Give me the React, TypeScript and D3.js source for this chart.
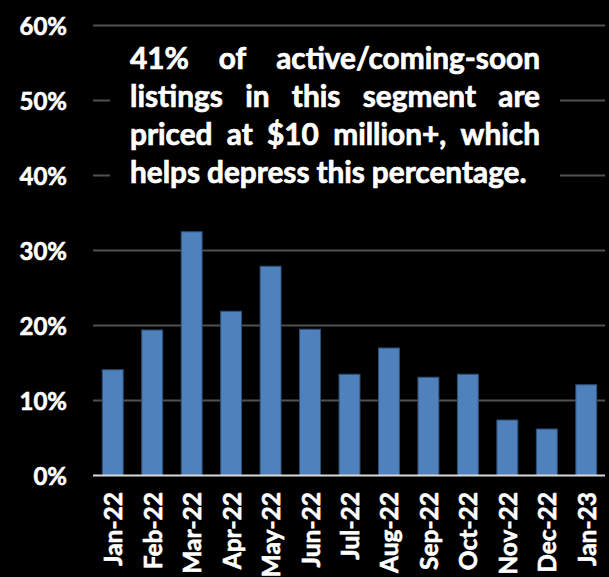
import React, { useEffect, useRef } from "react";
import * as d3 from "d3";

const categories = ["Jan-22","Feb-22","Mar-22","Apr-22","May-22","Jun-22","Jul-22","Aug-22","Sep-22","Oct-22","Nov-22","Dec-22","Jan-23"];
const values = [14.1, 19.4, 32.5, 21.9, 27.9, 19.5, 13.5, 17.0, 13.1, 13.5, 7.4, 6.2, 12.1];
const yTicks = [0, 10, 20, 30, 40, 50, 60];
const noteLines = [
  "41% of active/coming-soon",
  "listings in this segment are",
  "priced at $10 million+, which",
  "helps depress this percentage.",
];

const W = 609, H = 577;
const FONT = "Lato, 'Open Sans', sans-serif";

export default function App() {
  const ref = useRef<SVGSVGElement>(null);
  useEffect(() => {
    document.body.style.margin = "0";
    const svg = d3.select(ref.current);
    svg.selectAll("*").remove();
    svg.append("rect").attr("width", W).attr("height", H).attr("fill", "#000");

    const x = d3.scaleBand<string>().domain(categories).range([93, 606]).paddingInner(0.47).paddingOuter(0.235);
    const y = d3.scaleLinear().domain([0, 60]).range([475.5, 25.5]);

    // gridlines
    svg.append("g").selectAll("line").data(yTicks.filter(t => t > 0)).join("line")
      .attr("x1", 93).attr("x2", 605)
      .attr("y1", d => y(d)).attr("y2", d => y(d))
      .attr("stroke", "#505050").attr("stroke-width", 2);

    // y labels
    svg.append("g").selectAll("text").data(yTicks).join("text")
      .attr("x", 67).attr("y", d => y(d))
      .attr("text-anchor", "end").attr("dominant-baseline", "central")
      .attr("fill", "#fff").attr("stroke", "#fff").attr("stroke-width", 0.6)
      .attr("font-family", FONT).attr("font-weight", 700)
      .attr("font-size", 24)
      .text(d => d + "%");

    // bars
    svg.append("g").selectAll("rect").data(values).join("rect")
      .attr("x", (_, i) => x(categories[i])!)
      .attr("width", x.bandwidth())
      .attr("y", d => y(d))
      .attr("height", d => y(0) - y(d))
      .attr("fill", "#4F81BD").attr("stroke", "#2f4f75").attr("stroke-width", 1);

    // baseline
    svg.append("line").attr("x1", 93).attr("x2", 605).attr("y1", y(0)).attr("y2", y(0))
      .attr("stroke", "#d9d9d9").attr("stroke-width", 2);

    // x labels
    svg.append("g").selectAll("text").data(categories).join("text")
      .attr("transform", d => `translate(${x(d)! + x.bandwidth() / 2},492) rotate(-90)`)
      .attr("text-anchor", "end").attr("dominant-baseline", "central")
      .attr("fill", "#fff").attr("stroke", "#fff").attr("stroke-width", 0.6)
      .attr("font-family", FONT).attr("font-weight", 700)
      .attr("font-size", 24.5)
      .text(d => d);

    // note box
    svg.append("rect").attr("x", 110).attr("y", 36).attr("width", 450).attr("height", 160).attr("fill", "#000");
    const left = 130, right = 540;
    const baselines = [69, 107, 145, 183];
    const g = svg.append("g").attr("fill", "#fff").attr("stroke", "#fff").attr("stroke-width", 0.7)
      .attr("font-family", FONT).attr("font-weight", 700);
    const probe = g.append("text").attr("font-size", 27).text(noteLines[3]);
    const w0 = (probe.node() as SVGTextElement).getComputedTextLength();
    probe.remove();
    const fs = 27 * 398 / w0;
    noteLines.forEach((line, li) => {
      const words = line.split(" ");
      const nodes = words.map(wd => g.append("text").attr("font-size", fs).attr("y", baselines[li]).text(wd));
      const widths = nodes.map(n => (n.node() as SVGTextElement).getComputedTextLength());
      const total = d3.sum(widths);
      const space = fs * 0.23;
      const gap = li === noteLines.length - 1 ? space : (right - left - total) / (words.length - 1);
      let cx = left;
      nodes.forEach((n, i) => { n.attr("x", cx); cx += widths[i] + gap; });
    });
  }, []);
  return <svg ref={ref} width={W} height={H} style={{ display: "block" }} />;
}
